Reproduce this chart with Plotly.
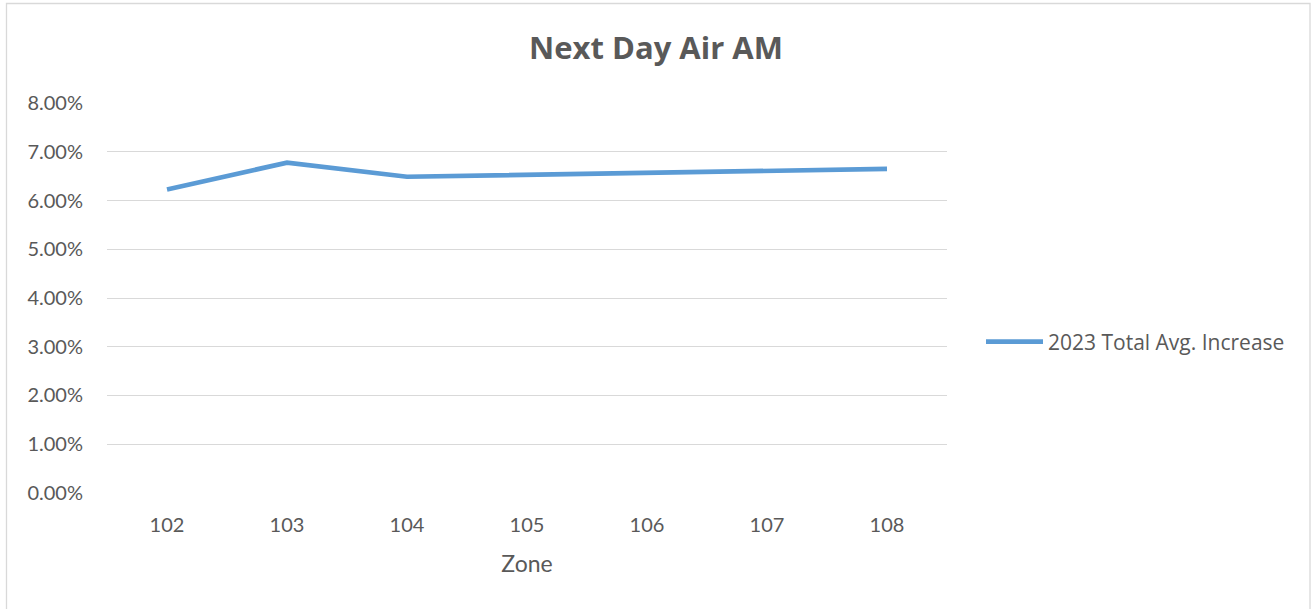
import plotly.graph_objects as go

zones = ["102", "103", "104", "105", "106", "107", "108"]
increase = [0.0623, 0.0678, 0.0649, 0.0653, 0.0657, 0.0662, 0.0665]
series_name = "2023 Total Avg. Increase"
y_ticks = [0, 0.01, 0.02, 0.03, 0.04, 0.05, 0.06, 0.07, 0.08]

W, H = 1312, 609
L, R, T, B = 107, 365, 103, 116
pw, ph = W - L - R, H - T - B

def px_x(p):
    return (p - L) / pw

def px_y(p):
    return (H - B - p) / ph

fig = go.Figure()
fig.add_trace(go.Scatter(
    x=zones, y=increase, mode="lines", name=series_name,
    line=dict(color="#5B9BD5", width=4.7),
))

fig.update_layout(
    width=W, height=H,
    margin=dict(l=L, r=R, t=T, b=B),
    paper_bgcolor="white", plot_bgcolor="white",
    font=dict(family="Lato, Open Sans, sans-serif", color="#595959", size=20),
    title=dict(text="<b>Next Day Air AM</b>", x=0.5, xanchor="center",
               y=1 - 48 / H, yanchor="middle",
               font=dict(size=31, color="#595959", family="Open Sans, sans-serif")),
    showlegend=True,
    legend=dict(x=px_x(981), xanchor="left", y=px_y(342), yanchor="middle",
                font=dict(size=21, color="#595959", family="Open Sans, sans-serif"),
                itemwidth=57, bgcolor="rgba(0,0,0,0)"),
    xaxis=dict(type="category", range=[-0.5, 6.5], showgrid=False,
               showline=False, zeroline=False, ticks="",
               tickfont=dict(size=20), ticklabelstandoff=18,
               title=dict(text="Zone", font=dict(size=23), standoff=20)),
    yaxis=dict(range=[-0.00005, 0.08005], tickvals=y_ticks, tickformat=".2%",
               showgrid=True, gridcolor="#d9d9d9", gridwidth=1.3,
               zeroline=False, showline=False, ticks="",
               tickfont=dict(size=20), ticklabelstandoff=23),
)

fig.add_shape(type="rect", xref="paper", yref="paper",
              x0=px_x(6.5), x1=px_x(1310), y0=px_y(612), y1=px_y(3.5),
              line=dict(color="#d9d9d9", width=1.3), fillcolor="rgba(0,0,0,0)",
              layer="below")

fig.write_html("out.html", config={"displayModeBar": False},
               post_script="document.body.style.margin='0';")
